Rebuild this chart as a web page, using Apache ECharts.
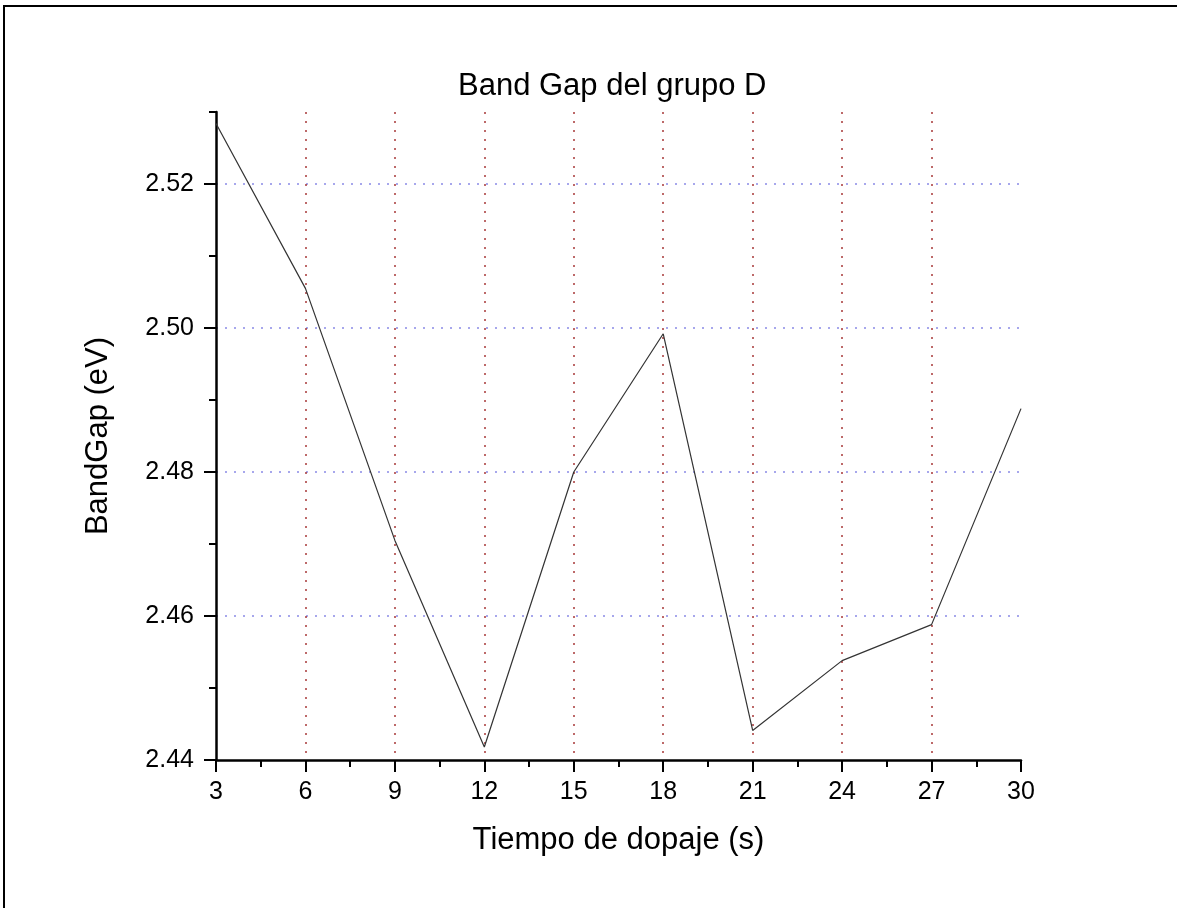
<!DOCTYPE html>
<html>
<head>
<meta charset="utf-8">
<script src="https://cdn.jsdelivr.net/npm/echarts@6/dist/echarts.min.js"></script>
<style>
html,body{margin:0;padding:0;background:#fff;overflow:hidden;}
#chart{position:absolute;left:0;top:0;width:1178px;height:909px;}
#frame{position:absolute;left:3px;top:5px;width:1172px;height:901px;border-left:2.5px solid #000;border-top:2.5px solid #000;pointer-events:none;}
</style>
</head>
<body>
<div id="chart"></div>
<div id="frame"></div>
<script>
const tiempo = [3, 6, 9, 12, 15, 18, 21, 24, 27, 30];
const bandGap = [2.5284, 2.5055, 2.4705, 2.4418, 2.4800, 2.4992, 2.4441, 2.4538, 2.4588, 2.4888];
const yMajorTicks = [2.44, 2.46, 2.48, 2.50, 2.52];
const titleText = 'Band Gap del grupo D';
const xName = 'Tiempo de dopaje (s)';
const yName = 'BandGap (eV)';

const FONT = '"Liberation Sans", Arial, sans-serif';
const chart = echarts.init(document.getElementById('chart'), null, {renderer: 'canvas'});
chart.setOption({
  animation: false,
  backgroundColor: '#fff',
  title: {
    text: titleText,
    left: 453, top: 66,
    textStyle: {fontFamily: FONT, fontSize: 31, fontWeight: 'normal', color: '#000'}
  },
  grid: {left: 216, right: 157, top: 112, bottom: 149, containLabel: false},
  xAxis: {
    type: 'value', min: 3, max: 30, interval: 3,
    name: xName, nameLocation: 'middle', nameGap: 65,
    nameTextStyle: {fontFamily: FONT, fontSize: 31, color: '#000'},
    axisLine: {show: true, onZero: false, lineStyle: {color: '#000', width: 2.5}},
    axisTick: {show: true, inside: false, length: 12, lineStyle: {color: '#000', width: 2}},
    minorTick: {show: true, splitNumber: 2, length: 7, lineStyle: {color: '#000', width: 2}},
    axisLabel: {margin: 20, fontFamily: FONT, fontSize: 25, color: '#000'},
    splitLine: {show: true, showMinLine: false, showMaxLine: false,
      lineStyle: {color: '#a83838', width: 1.5, type: [2, 7]}}
  },
  yAxis: [{
    type: 'value', min: 2.44, max: 2.53,
    name: yName, nameLocation: 'middle', nameGap: 102,
    nameTextStyle: {fontFamily: FONT, fontSize: 31, color: '#000'},
    axisLine: {show: true, onZero: false, lineStyle: {color: '#000', width: 2.5}},
    axisTick: {show: true, inside: false, length: 12, customValues: yMajorTicks, lineStyle: {color: '#000', width: 2}},
    axisLabel: {margin: 22, customValues: yMajorTicks, fontFamily: FONT, fontSize: 25, color: '#000',
      formatter: v => v.toFixed(2)},
    splitLine: {show: true, showMinLine: false, showMaxLine: true,
      lineStyle: {color: '#8a8ae6', width: 1.5, type: [2, 7]}}
  }, {
    type: 'value', min: 2.44, max: 2.53, interval: 0.01, position: 'left',
    axisLine: {show: false},
    axisTick: {show: true, inside: false, length: 7, lineStyle: {color: '#000', width: 2}},
    axisLabel: {show: false},
    splitLine: {show: false}
  }],
  series: [{
    type: 'line',
    xAxisIndex: 0, yAxisIndex: 0,
    data: tiempo.map((t, i) => [t, bandGap[i]]),
    showSymbol: false,
    lineStyle: {color: '#333', width: 1.2},
    clip: false
  }]
});
</script>
</body>
</html>
